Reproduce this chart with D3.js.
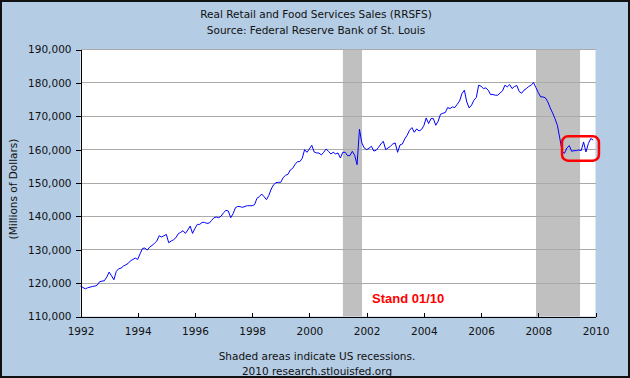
<!DOCTYPE html>
<html>
<head>
<meta charset="utf-8">
<script src="https://cdn.jsdelivr.net/npm/d3@7"></script>
<style>
  body { margin: 0; padding: 0; }
  svg { display: block; }
</style>
</head>
<body>
<div id="chart-area"></div>
<script>

// data, monthly from Jan 1992 (millions of dollars)
let startYear = 1992;
let sales = [
    119100, 118700, 118300, 118600, 118800, 119000, 119100, 119400, 120400, 120600, 120700, 121800,
    123300, 122200, 121000, 123500, 124300, 124500, 125100, 125500, 125900, 126700, 127100, 127500,
    127100, 128800, 130400, 130500, 129900, 130800, 131300, 131900, 132600, 134200, 133800, 134200,
    134600, 132100, 132600, 133000, 133600, 134800, 135200, 135700, 134900, 135900, 137100, 134900,
    136400, 137600, 137600, 138200, 138200, 137900, 138000, 138800, 139600, 139800, 139600, 140100,
    141100, 141800, 141600, 139600, 140800, 142600, 143000, 142900, 142700, 143000, 143200, 143200,
    143200, 143500, 145400, 145900, 146700, 145900, 145000, 146300, 148200, 149500, 150100, 150200,
    150200, 151600, 152300, 152600, 153900, 154400, 155600, 156400, 156400, 157400, 160000, 159200,
    160200, 161300, 159300, 159000, 159000, 158400, 159200, 160200, 159500, 158700, 159200, 158700,
    159000, 157500, 159200, 159200, 158200, 158200, 159500, 158300, 155500, 166100, 162000, 160500,
    160000, 160400, 161000, 159600, 159800, 160700, 161700, 162500, 160000, 160500, 161000, 161700,
    162000, 159200, 161400, 161700, 163200, 164300, 165800, 166600, 165200, 166200, 165600, 166000,
    167200, 169500, 167800, 169300, 169300, 167300, 168500, 170600, 170900, 171100, 172600, 172300,
    172800, 172600, 173600, 174600, 176800, 177800, 174300, 172500, 173300, 174800, 175600, 179300,
    179000, 178300, 178500, 177800, 176500, 176500, 176300, 176300, 177000, 177600, 179300, 178800,
    179500, 178300, 178900, 179200, 177400, 176900, 177800, 178300, 178900, 179300, 180100, 178600,
    177100, 175800, 175800, 175500, 174300, 172500, 171000, 169300, 167300, 163500, 159500, 158900,
    160500, 161200, 159500, 159700, 159700, 159900, 159700, 162300, 159300, 161800, 163300, 162900
];

// recessions (start, end in decimal years)
let recessions = [[2001.17, 2001.84], [2007.92, 2009.46]];

let xTicks = [1992, 1994, 1996, 1998, 2000, 2002, 2004, 2006, 2008, 2010];
let yTicks = [110000, 120000, 130000, 140000, 150000, 160000, 170000, 180000, 190000];

let titleLines = ["Real Retail and Food Services Sales (RRSFS)", "Source: Federal Reserve Bank of St. Louis"];
let footerLines = ["Shaded areas indicate US recessions.", "2010 research.stlouisfed.org"];

let points = sales.map((v, i) => ({year: startYear + i / 12, value: v}));

// margin conventions
let margin = {top: 49.5, right: 34.5, bottom: 61.5, left: 80.5},
    width = 630 - margin.left - margin.right,
    height = 378 - margin.top - margin.bottom;

let font = "'DejaVu Sans', Verdana, sans-serif";

let svgRoot = d3.select("#chart-area").append("svg")
    .attr("width", 630)
    .attr("height", 378);

// blue background with dark frame
svgRoot.append("rect")
    .attr("x", 1).attr("y", 1)
    .attr("width", 628).attr("height", 376)
    .attr("fill", "#b4cce4")
    .attr("stroke", "#111")
    .attr("stroke-width", 2);

let svg = svgRoot.append("g")
    .attr("transform", "translate(" + margin.left + "," + margin.top + ")");

let x = d3.scaleLinear().domain([1992, 2010]).range([0, width]);
let y = d3.scaleLinear().domain([110000, 190000]).range([height, 0]);

// plot area
svg.append("rect")
    .attr("width", width).attr("height", height)
    .attr("fill", "#fff");

// recession bars
svg.selectAll(".recession").data(recessions)
    .enter().append("rect")
    .attr("class", "recession")
    .attr("x", d => x(d[0]))
    .attr("width", d => x(d[1]) - x(d[0]))
    .attr("y", 0)
    .attr("height", height)
    .attr("fill", "#c0c0c0");

// gridlines
svg.selectAll(".grid").data(yTicks.slice(1))
    .enter().append("line")
    .attr("class", "grid")
    .attr("x1", 0).attr("x2", width)
    .attr("y1", d => Math.round(y(d)))
    .attr("y2", d => Math.round(y(d)))
    .attr("stroke", "#aaa")
    .attr("shape-rendering", "crispEdges");

// line
let line = d3.line()
    .x(d => x(d.year))
    .y(d => y(d.value));

svg.append("path")
    .datum(points)
    .attr("d", line)
    .attr("fill", "none")
    .attr("stroke", "#0000ff")
    .attr("stroke-width", 1);

// y axis
let yAxis = svg.append("g")
    .call(d3.axisLeft(y).tickValues(yTicks).tickSize(5).tickPadding(4).tickFormat(d3.format(",")));
yAxis.select(".domain").attr("stroke", "#000").attr("shape-rendering", "crispEdges");
yAxis.selectAll(".tick line").attr("stroke", "#000").attr("shape-rendering", "crispEdges");
yAxis.selectAll("text")
    .attr("font-family", font)
    .attr("font-size", "10.5px")
    .attr("fill", "#111");

// x axis, ticks point up into the plot
let xAxis = svg.append("g")
    .attr("transform", "translate(0," + height + ")")
    .call(d3.axisBottom(x).tickValues(xTicks).tickSizeInner(-4).tickSizeOuter(0).tickPadding(11).tickFormat(d3.format("d")));
xAxis.select(".domain").attr("stroke", "#000").attr("shape-rendering", "crispEdges");
xAxis.selectAll(".tick line").attr("stroke", "#000").attr("shape-rendering", "crispEdges");
xAxis.selectAll("text")
    .attr("font-family", font)
    .attr("font-size", "10.5px")
    .attr("fill", "#111");

// y axis title
svgRoot.append("text")
    .attr("transform", "translate(17,189) rotate(-90)")
    .attr("text-anchor", "middle")
    .attr("font-family", font)
    .attr("font-size", "10.5px")
    .attr("fill", "#111")
    .text("(Millions of Dollars)");

// titles
svgRoot.selectAll(".title").data(titleLines)
    .enter().append("text")
    .attr("class", "title")
    .attr("x", 316)
    .attr("y", (d, i) => 18 + i * 16)
    .attr("text-anchor", "middle")
    .attr("font-family", font)
    .attr("font-size", "10.5px")
    .attr("fill", "#111")
    .text(d => d);

svgRoot.selectAll(".footer").data(footerLines)
    .enter().append("text")
    .attr("class", "footer")
    .attr("x", 317)
    .attr("y", (d, i) => 360 + i * 14.5)
    .attr("text-anchor", "middle")
    .attr("font-family", font)
    .attr("font-size", "10.5px")
    .attr("fill", "#111")
    .text(d => d);

// annotation
svg.append("text")
    .attr("x", x(2002.19))
    .attr("y", y(113900))
    .attr("font-family", "'Liberation Sans', Arial, sans-serif")
    .attr("font-weight", "bold")
    .attr("font-size", "13px")
    .attr("fill", "#f00")
    .text("Stand 01/10");

svg.append("rect")
    .attr("x", x(2008.83))
    .attr("y", y(164000))
    .attr("width", x(2010.12) - x(2008.83))
    .attr("height", y(156700) - y(164000))
    .attr("rx", 6).attr("ry", 6)
    .attr("fill", "none")
    .attr("stroke", "#f00")
    .attr("stroke-width", 2.5);

</script>
</body>
</html>
